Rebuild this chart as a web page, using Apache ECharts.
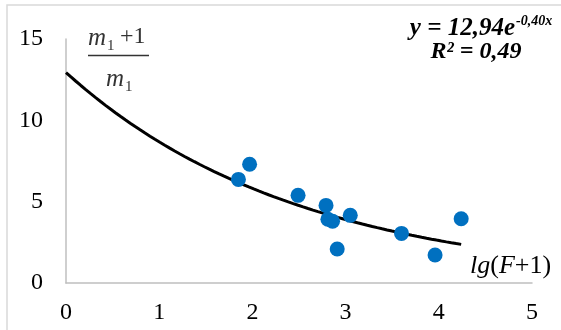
<!DOCTYPE html>
<html>
<head>
<meta charset="utf-8">
<script src="https://cdn.jsdelivr.net/npm/echarts@6/dist/echarts.min.js"></script>
<style>html,body{margin:0;padding:0;background:#fff}#c{width:561px;height:330px}</style>
</head>
<body>
<div id="c"></div>
<script>
// Data
const pointsX = [1.97, 1.85, 2.49, 2.79, 2.81, 2.86, 3.05, 2.91, 3.60, 3.96, 4.24];
const pointsY = [7.30, 6.37, 5.39, 4.77, 3.92, 3.80, 4.16, 2.09, 3.05, 1.72, 3.95];
// Displayed trendline y = 12,94 e^(-0,40x), drawn over the fitted range
const trendA = 12.94;
const trendB = -0.40;
const trendXStart = 0;
const trendXEnd = 4.24;
const xTicks = [0, 1, 2, 3, 4, 5];
const yTicks = [0, 5, 10, 15];

const scatterData = pointsX.map((x, i) => [x, pointsY[i]]);
const trendData = [];
const steps = 80;
for (let i = 0; i <= steps; i++) {
  const x = trendXStart + (trendXEnd - trendXStart) * i / steps;
  trendData.push([x, trendA * Math.exp(trendB * x)]);
}

const serif = "'Liberation Serif', 'Times New Roman', serif";
const chart = echarts.init(document.getElementById('c'), null, {renderer: 'canvas'});
chart.setOption({
  animation: false,
  backgroundColor: '#fff',
  grid: {left: 66, right: 29, top: 39, bottom: 47},
  xAxis: {
    type: 'value', min: xTicks[0], max: xTicks[xTicks.length - 1], interval: 1,
    axisLine: {show: true, onZero: false, lineStyle: {color: '#BFBFBF', width: 1.5}},
    axisTick: {show: false},
    splitLine: {show: false},
    axisLabel: {fontFamily: serif, fontSize: 24, color: '#000', margin: 18}
  },
  yAxis: {
    type: 'value', min: yTicks[0], max: yTicks[yTicks.length - 1], interval: 5,
    axisLine: {show: true, lineStyle: {color: '#BFBFBF', width: 1.5}},
    axisTick: {show: false},
    splitLine: {show: false},
    axisLabel: {fontFamily: serif, fontSize: 24, color: '#000', margin: 23}
  },
  series: [
    {
      type: 'line', data: trendData, showSymbol: false, smooth: false,
      lineStyle: {color: '#000', width: 3}, z: 2
    },
    {
      type: 'scatter', data: scatterData, symbolSize: 15,
      itemStyle: {color: '#0070C0', opacity: 1}, z: 3
    }
  ],
  graphic: [
    {type: 'rect', shape: {x: 7, y: 5, width: 620, height: 400}, style: {fill: 'none', stroke: '#D9D9D9', lineWidth: 1.5}, silent: true, z: -1},
    // equation
    {type: 'text', x: 515, y: 29, style: {text: 'y = 12,94e', font: "italic bold 25px " + serif, fill: '#000', align: 'right', verticalAlign: 'middle'}},
    {type: 'text', x: 516, y: 21, style: {text: '-0,40x', font: "italic bold 14px " + serif, fill: '#000', align: 'left', verticalAlign: 'middle'}},
    {type: 'text', x: 476, y: 52, style: {text: 'R² = 0,49', font: "italic bold 24px " + serif, fill: '#000', align: 'center', verticalAlign: 'middle'}},
    // fraction (m1+1)/m1
    {type: 'text', x: 88, y: 38, style: {text: 'm', font: "italic 25px " + serif, fill: '#333', align: 'left', verticalAlign: 'middle'}},
    {type: 'text', x: 107, y: 46, style: {text: '1', font: "15px " + serif, fill: '#333', align: 'left', verticalAlign: 'middle'}},
    {type: 'text', x: 120, y: 37, style: {text: '+1', font: "24px " + serif, fill: '#333', align: 'left', verticalAlign: 'middle'}},
    {type: 'line', shape: {x1: 88, y1: 55.5, x2: 149, y2: 55.5}, style: {stroke: '#333', lineWidth: 1.5}},
    {type: 'text', x: 106, y: 79, style: {text: 'm', font: "italic 25px " + serif, fill: '#333', align: 'left', verticalAlign: 'middle'}},
    {type: 'text', x: 125, y: 87, style: {text: '1', font: "15px " + serif, fill: '#333', align: 'left', verticalAlign: 'middle'}},
    // x-axis name lg(F+1)
    {type: 'text', x: 470, y: 266, style: {
      text: '{i|lg}{r|(}{i|F}{r|+1)}',
      rich: {
        i: {font: "italic 26px " + serif, fill: '#000'},
        r: {font: "26px " + serif, fill: '#000'}
      },
      align: 'left', verticalAlign: 'middle'
    }}
  ]
});
</script>
</body>
</html>
